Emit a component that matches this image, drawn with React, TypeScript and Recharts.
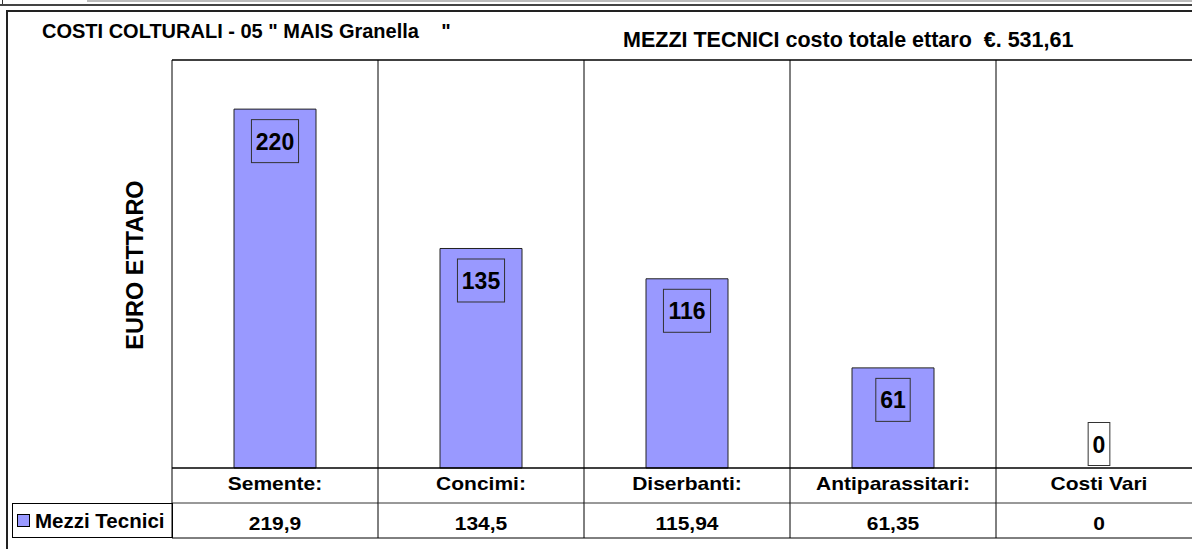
import React from "react";
import { BarChart, Bar, XAxis, YAxis, ReferenceLine, LabelList, Legend } from "recharts";

const categories = ["Semente:", "Concimi:", "Diserbanti:", "Antiparassitari:", "Costi Vari"];
const mezziTecnici = [219.9, 134.5, 115.94, 61.35, 0];
const seriesName = "Mezzi Tecnici";
const yDomain = [0, 250];

const data = categories.map((name, i) => ({ name, value: mezziTecnici[i] }));

const FONT = '"Liberation Sans", Arial, sans-serif';
const BAR_COLOR = "#9999FF";
const CHART_W = 1210;
const CHART_H = 549;
const TOP = 60;
const LEFT = 172;
const RIGHT = 8;
const BASE = 468;
const ROW = 35;
const BW = (CHART_W - LEFT - RIGHT) / categories.length;

const fmt = (v: number) => String(v).replace(".", ",");

function TableTick(props: any) {
  const { x, index, payload } = props;
  const left = x - BW / 2;
  const right = x + BW / 2;
  const v = data[index]?.value ?? 0;
  return (
    <g>
      <line x1={left} x2={left} y1={TOP} y2={BASE + 2 * ROW} stroke="#000" strokeWidth={1} />
      <line x1={left} x2={right} y1={BASE + ROW} y2={BASE + ROW} stroke="#333" strokeWidth={1} />
      <line x1={left} x2={right} y1={BASE + 2 * ROW} y2={BASE + 2 * ROW} stroke="#000" strokeWidth={1} />
      <text
        transform={`translate(${x},${BASE + 22}) scale(1.2,1)`}
        textAnchor="middle"
        fontFamily={FONT}
        fontWeight="bold"
        fontSize={17.5}
        fill="#000"
      >
        {payload?.value}
      </text>
      <text
        transform={`translate(${x},${BASE + ROW + 27}) scale(1.2,1)`}
        textAnchor="middle"
        fontFamily={FONT}
        fontWeight="bold"
        fontSize={17.5}
        fill="#000"
      >
        {fmt(v)}
      </text>
      {/* the zero bar has no height, so its boxed label is drawn from the axis */}
      {v === 0 && <BoxLabel x={x - 41} y={BASE} width={82} height={0} value={v} />}
    </g>
  );
}

function BoxLabel(props: any) {
  const { x, y, width, height, value } = props;
  const txt = String(Math.round(Number(value) || 0));
  const w = txt.length * 12.7 + 9;
  const h = 43;
  const cx = x + width / 2;
  const hh = Number(height) || 0;
  const cy = hh > 1 ? y + 32 : y + hh - 24;
  return (
    <g>
      <rect x={cx - w / 2} y={cy - h / 2} width={w} height={h} fill="none" stroke="#333" strokeWidth={1} />
      <text x={cx} y={cy + 8.5} textAnchor="middle" fontFamily={FONT} fontWeight="bold" fontSize={23} fill="#000">
        {txt}
      </text>
    </g>
  );
}

function BarLabel(props: any) {
  if (!(Number(props.value) > 0)) return null;
  return <BoxLabel {...props} />;
}

function LegendBox() {
  return (
    <div
      style={{
        boxSizing: "border-box",
        width: 161,
        height: 35,
        border: "1px solid #000",
        display: "flex",
        alignItems: "center",
        paddingLeft: 4,
        fontFamily: FONT,
        fontWeight: "bold",
        fontSize: 20.5,
        color: "#000",
      }}
    >
      <span
        style={{
          display: "inline-block",
          width: 11,
          height: 11,
          background: BAR_COLOR,
          border: "1px solid #000",
          marginRight: 5,
        }}
      />
      {seriesName}
    </div>
  );
}

export default function App() {
  return (
    <div
      style={{
        position: "absolute",
        left: 0,
        top: 0,
        width: 1192,
        height: 549,
        overflow: "hidden",
        background: "#fff",
        fontFamily: FONT,
      }}
    >
      <div style={{ position: "absolute", left: 87, top: 0, width: 1200, height: 2, background: "#bbb" }} />
      <div style={{ position: "absolute", left: 2, top: 0, width: 1, height: 5, background: "#333" }} />
      <div style={{ position: "absolute", left: 0, top: 4, width: 1200, height: 2, background: "#444" }} />
      <div
        style={{
          position: "absolute",
          left: 6,
          top: 10,
          width: 1300,
          height: 700,
          borderLeft: "2px solid #222",
          borderTop: "2px solid #222",
        }}
      />
      <div style={{ position: "absolute", left: 0, top: 0 }}>
        <BarChart
          width={CHART_W}
          height={CHART_H}
          data={data}
          margin={{ top: TOP, left: LEFT, right: RIGHT, bottom: CHART_H - BASE - 70 }}
        >
          <XAxis
            dataKey="name"
            height={70}
            axisLine={{ stroke: "#000", strokeWidth: 1.5 }}
            tickLine={false}
            tick={<TableTick />}
            interval={0}
          />
          <YAxis hide domain={yDomain} />
          <ReferenceLine y={yDomain[1]} stroke="#000" strokeWidth={1.5} />
          <Bar dataKey="value" name={seriesName} fill={BAR_COLOR} stroke="#222" strokeWidth={1} barSize={82} isAnimationActive={false}>
            <LabelList dataKey="value" content={<BarLabel />} />
          </Bar>
          <Legend
            layout="horizontal"
            verticalAlign="middle"
            align="center"
            content={() => <LegendBox />}
            wrapperStyle={{ left: 12, top: 503, width: 161, height: 35 }}
          />
        </BarChart>
      </div>
      <div
        style={{
          position: "absolute",
          left: 42,
          top: 20,
          fontSize: 20,
          fontWeight: "bold",
          whiteSpace: "pre",
          color: "#000",
        }}
      >
        {'COSTI COLTURALI - 05 " MAIS Granella    "'}
      </div>
      <div
        style={{
          position: "absolute",
          left: 623,
          top: 28,
          fontSize: 21.5,
          fontWeight: "bold",
          whiteSpace: "pre",
          color: "#000",
        }}
      >
        {"MEZZI TECNICI costo totale ettaro  €. 531,61"}
      </div>
      <div
        style={{
          position: "absolute",
          left: 135,
          top: 265,
          transform: "translate(-50%, -50%) rotate(-90deg)",
          fontSize: 23.5,
          fontWeight: "bold",
          whiteSpace: "nowrap",
          color: "#000",
        }}
      >
        EURO ETTARO
      </div>
    </div>
  );
}
